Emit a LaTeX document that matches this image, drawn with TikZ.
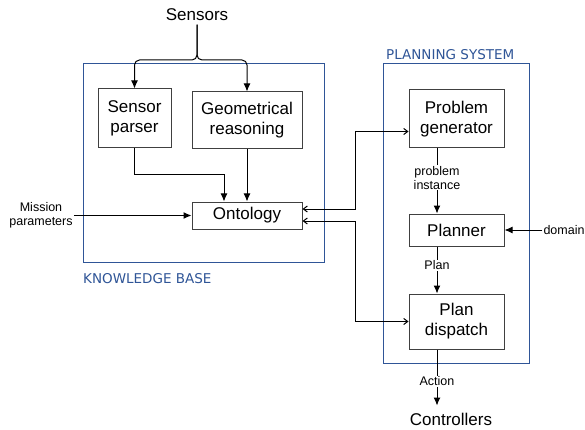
\documentclass[tikz,border=0pt]{standalone}
\usepackage{fontspec}
\setmainfont{Liberation Sans}
\newfontfamily\labelfont{DejaVu Sans}
\usetikzlibrary{arrows.meta}
\definecolor{frameblue}{RGB}{47,85,151}
\definecolor{boxgray}{RGB}{64,64,64}
\begin{document}
\begin{tikzpicture}[x=1pt,y=-1pt,
	box/.style={draw=boxgray,line width=1pt,align=center,font=\fontsize{17}{20}\selectfont,inner sep=0pt},
	small/.style={align=center,font=\fontsize{12.5}{14.3}\selectfont,inner sep=1pt},
	arr/.style={-{Latex[length=8pt,width=7pt]},line width=1pt},
	barb/.style={{Straight Barb[length=4pt,width=6pt]}-{Straight Barb[length=4pt,width=6pt]},line width=1pt},
	group/.style={draw=frameblue,line width=1pt},
	grouplabel/.style={text=frameblue,font=\labelfont\fontsize{13.5}{16}\selectfont,anchor=west,inner sep=0pt}]
	\useasboundingbox (0,0) rectangle (585,430);

	% groups
	\draw[group] (83,64) rectangle (324,262);
	\node[grouplabel] (kblabel) at (83,279) {KNOWLEDGE BASE};
	\draw[group] (383,64) rectangle (529,363);
	\node[grouplabel] (pslabel) at (386,55) {PLANNING SYSTEM};

	% knowledge base
	\node[font=\fontsize{17}{20}\selectfont] (sensors) at (197,15) {Sensors};
	\node[box,minimum width=73pt,minimum height=59pt] (parser) at (134.5,118.5) {Sensor\\parser};
	\node[box,minimum width=110pt,minimum height=57pt] (geom) at (247,120.5) {Geometrical\\reasoning};
	\node[box,minimum width=110pt,minimum height=27pt] (onto) at (247,215.5) {Ontology};
	\node[small] (mission) at (41,215.5) {Mission\\parameters};

	% planning system
	\node[box,minimum width=95pt,minimum height=58pt] (probgen) at (456.5,119) {Problem\\generator};
	\node[box,minimum width=95pt,minimum height=32pt] (planner) at (456.5,230) {Planner};
	\node[box,minimum width=95pt,minimum height=55pt] (dispatch) at (456.5,321.5) {Plan\\dispatch};
	\node[small] (domain) at (564,230) {domain};
	\node[font=\fontsize{17}{20}\selectfont] (ctrl) at (451,419) {Controllers};

	% connectors
	\draw[arr,rounded corners=5pt] (sensors.south) -- (197,60) -- (134.5,60) -- (parser.north);
	\draw[arr,rounded corners=5pt] (sensors.south) -- (197,60) -- (247,60) -- (geom.north);
	\draw[arr] (parser.south) -- (134.5,175) -| ([xshift=-23pt]onto.north);
	\draw[arr] (geom.south) -- (onto.north);
	\draw[arr] (mission.east) -- (onto.west);
	\draw[barb] ([yshift=6.5pt]onto.east) -| (355,131.5) -- ([yshift=-12.5pt]probgen.west);
	\draw[barb] ([yshift=-5.5pt]onto.east) -| (355,321.5) -- (dispatch.west);
	\draw[arr] ([xshift=-19.5pt]probgen.south) -- node[small,fill=white,pos=0.45]{problem\\instance} ([xshift=-19.5pt]planner.north);
	\draw[arr] ([xshift=-19.5pt]planner.south) -- node[small,fill=white,pos=0.4]{Plan} ([xshift=-19.5pt]dispatch.north);
	\draw[arr] ([xshift=-19.5pt]dispatch.south) -- node[small,fill=white,pos=0.57]{Action} ++(0,56);
	\draw[arr] (domain.west) -- (planner.east);
\end{tikzpicture}
\end{document}
